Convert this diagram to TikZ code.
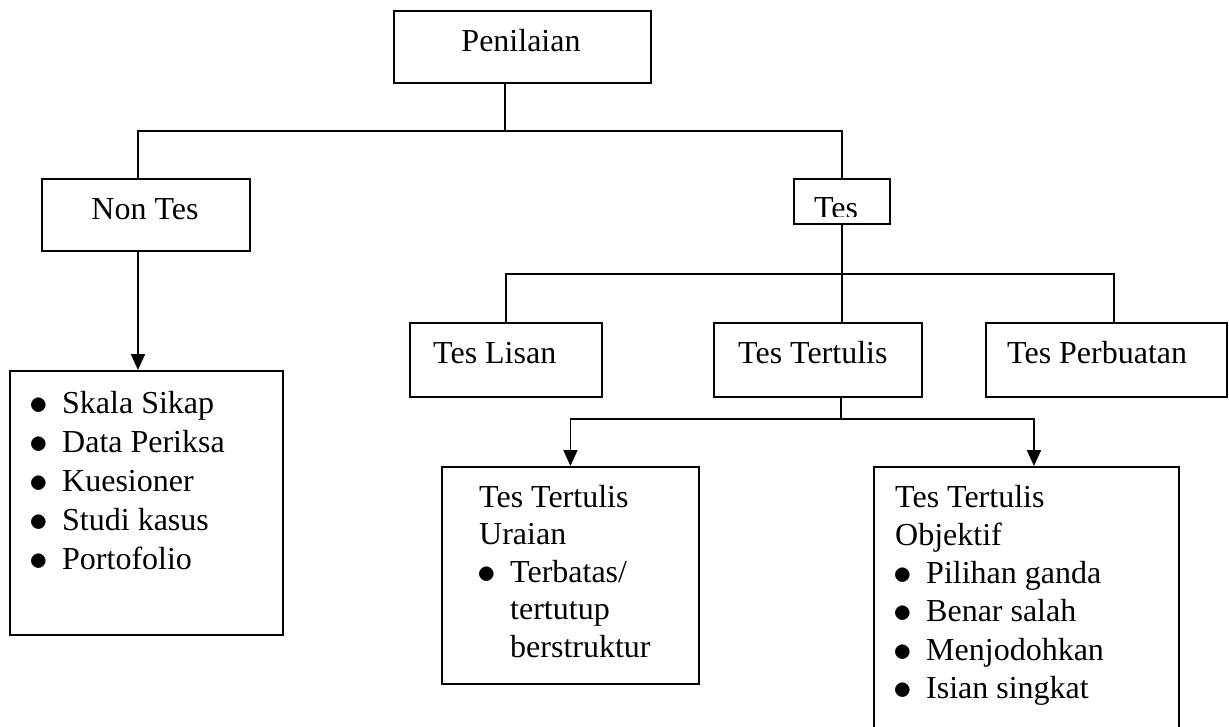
\documentclass[tikz,border=0pt]{standalone}
\usepackage{fontspec}
\setmainfont{Liberation Serif}
\usetikzlibrary{arrows.meta}

\newcommand\bul{\makebox[37pt][l]{\hspace*{4pt}\smash{\raisebox{-1pt}{\scalebox{1.5}{$\bullet$}}}}}

\tikzset{
  box/.style={draw, line width=1.9pt, inner sep=0pt, anchor=north west},
  lbl/.style={inner sep=0pt, font=\fontsize{32}{38}\selectfont},
  list/.style={inner sep=0pt, align=left, anchor=base west, font=\fontsize{32}{#1}\selectfont},
  conn/.style={line width=1.9pt},
  arr/.style={conn, -{Triangle[length=16pt,width=14pt]}},
}

\begin{document}
\begin{tikzpicture}[x=1pt,y=-1pt,line cap=rect]
  \useasboundingbox (0,0) rectangle (1229,726);
  \clip (0,0) rectangle (1229,726);
  % boxes
  \node[box, minimum width=257, minimum height=72] (penilaian) at (393,10) {};
  \node[box, minimum width=208, minimum height=72] (nontes) at (41,178) {};
  \node[box, minimum width=96, minimum height=45] (tes) at (793,178) {};
  \node[box, minimum width=273, minimum height=264] (nonlist) at (9,370) {};
  \node[box, minimum width=192, minimum height=74] (lisan) at (409,322) {};
  \node[box, minimum width=208, minimum height=74] (tertulis) at (713,322) {};
  \node[box, minimum width=241, minimum height=74] (perbuatan) at (985,322) {};
  \node[box, minimum width=257, minimum height=217] (uraian) at (441,466) {};
  \node[box, minimum width=305, minimum height=300] (objektif) at (873,466) {};

  % texts
  \node[lbl, anchor=base] (t-penilaian) at (521,51) {Penilaian};
  \node[lbl, anchor=base] (t-nontes) at (145,219) {Non Tes};
  \begin{scope}
    \clip (tes.north west) rectangle (889,216.5);
    \node[lbl, anchor=base] (t-tes) at (836,218) {Tes};
  \end{scope}
  \node[lbl, anchor=base west] (t-lisan) at (433,363) {Tes Lisan};
  \node[lbl, anchor=base west] (t-tertulis) at (738,363) {Tes Tertulis};
  \node[lbl, anchor=base west] (t-perbuatan) at (1007,363) {Tes Perbuatan};
  % multi-line texts sit on their last baseline
  \node[list=38.9] (t-nonlist) at (25,569) {\bul Skala Sikap\\ \bul Data Periksa\\
    \bul Kuesioner\\ \bul Studi kasus\\ \bul Portofolio};
  \node[list=37.5] (t-uraian) at (473,657) {\hspace*{6pt}Tes Tertulis\\ \hspace*{6pt}Uraian\\
    \bul Terbatas/\\ \hspace*{37pt}tertutup\\ \hspace*{37pt}berstruktur};
  \node[list=38.3] (t-objektif) at (889,698.5) {\hspace*{6pt}Tes Tertulis\\ \hspace*{6pt}Objektif\\
    \bul Pilihan ganda\\ \bul Benar salah\\ \bul Menjodohkan\\ \bul Isian singkat};

  % connectors
  \coordinate (j1) at (505,131);
  \coordinate (j2) at (505,274);
  \coordinate (j3) at (841,419);
  \draw[conn] (penilaian.south -| j1) -- (j1);
  \draw[conn] ([xshift=-8]nontes.north) |- (j1) -| (tes.north);
  \draw[arr] ([xshift=-8]nontes.south) -- ([xshift=-8]nontes.south |- nonlist.north);
  \draw[conn] (tes.south) -- (tes.south |- tertulis.north);
  \draw[conn] (lisan.north) |- (j2) -| ([xshift=7.5]perbuatan.north);
  \draw[conn] (tertulis.south -| j3) -- (j3);
  \draw[arr] (j3) -| (uraian.north);
  \draw[arr] (j3) -| ([xshift=7.5]objektif.north);
\end{tikzpicture}
\end{document}
